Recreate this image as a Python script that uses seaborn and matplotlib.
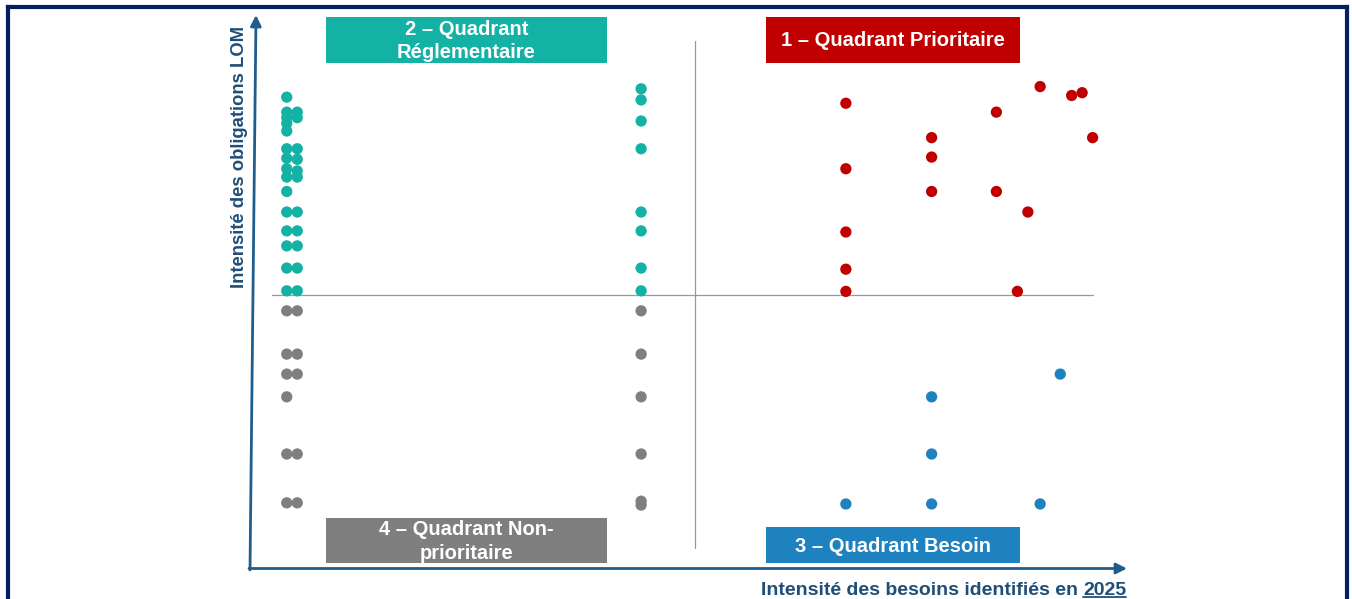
import matplotlib
matplotlib.use("Agg")
import matplotlib.pyplot as plt
import numpy as np
import pandas as pd
import seaborn as sns
from matplotlib.patches import Rectangle
from matplotlib.lines import Line2D

# ---------------- data ----------------
# x = intensité des besoins identifiés en 2025, y = intensité des obligations LOM
reg_x = [0.42, 0.42, 0.42, 0.42, 0.42, 0.42, 0.42, 0.42, 0.42, 0.42, 0.42, 0.42, 0.42, 0.42, 0.42,
         0.54, 0.54, 0.54, 0.54, 0.54, 0.54, 0.54, 0.54, 0.54, 0.54, 0.54,
         4.47, 4.47, 4.47, 4.47, 4.47, 4.47, 4.47, 4.47]
reg_y = [8.52, 8.25, 8.15, 8.05, 7.91, 7.59, 7.42, 7.23, 7.08, 6.82, 6.45, 6.11, 5.84, 5.44, 5.03,
         8.25, 8.15, 7.59, 7.40, 7.19, 7.08, 6.45, 6.11, 5.84, 5.44, 5.03,
         8.67, 8.47, 8.09, 7.59, 6.45, 6.11, 5.44, 5.03]

nonprio_x = [0.42, 0.42, 0.42, 0.42, 0.42, 0.42,
             0.54, 0.54, 0.54, 0.54, 0.54,
             4.47, 4.47, 4.47, 4.47, 4.47, 4.47]
nonprio_y = [4.67, 3.89, 3.53, 3.12, 2.09, 1.21,
             4.67, 3.89, 3.53, 2.09, 1.21,
             4.67, 3.89, 3.12, 2.09, 1.24, 1.17]

prio_x = [6.81, 6.81, 6.81, 6.81, 6.81, 7.79, 7.79, 7.79, 8.53, 8.53, 8.77, 8.89, 9.03, 9.39, 9.51, 9.63]
prio_y = [8.41, 7.23, 6.09, 5.42, 5.02, 7.79, 7.44, 6.82, 8.25, 6.82, 5.02, 6.45, 8.71, 8.55, 8.60, 7.79]

besoin_x = [6.81, 7.79, 7.79, 7.79, 9.03, 9.26]
besoin_y = [1.19, 3.12, 2.09, 1.19, 1.19, 3.53]

x_threshold = 5.08
y_threshold = 4.95

quadrant_labels = ["1 – Quadrant Prioritaire", "2 – Quadrant\nRéglementaire",
                   "3 – Quadrant Besoin", "4 – Quadrant Non-\nprioritaire"]
x_label = "Intensité des besoins identifiés en"
x_label_year = "2025"
y_label = "Intensité des obligations LOM"

colors = {"prio": "#C00000", "reg": "#14B1A5", "besoin": "#1F82C0", "nonprio": "#7F7F7F"}

df = pd.concat([
    pd.DataFrame({"besoin": prio_x, "obligation": prio_y, "quadrant": "prio"}),
    pd.DataFrame({"besoin": reg_x, "obligation": reg_y, "quadrant": "reg"}),
    pd.DataFrame({"besoin": besoin_x, "obligation": besoin_y, "quadrant": "besoin"}),
    pd.DataFrame({"besoin": nonprio_x, "obligation": nonprio_y, "quadrant": "nonprio"}),
], ignore_index=True)

# ---------------- layout helpers (pixel -> data) ----------------
W, H = 1352, 599
X0, SX = 250.0, 87.5
Y0, SY = 570.0, 55.5

def dx(px):
    return (px - X0) / SX

def dy(py):
    return (Y0 - py) / SY

sns.set_theme(style="white")
plt.rcParams["font.family"] = ["Liberation Sans", "DejaVu Sans"]

fig = plt.figure(figsize=(W / 100, H / 100), dpi=100)
ax = fig.add_axes([0, 0, 1, 1])
ax.set_xlim(dx(0), dx(W))
ax.set_ylim(dy(H), dy(0))
ax.axis("off")

# quadrant separators
ax.plot([x_threshold, x_threshold], [dy(548), dy(41)], color="#999999", lw=0.9, zorder=1)
ax.plot([dx(272), dx(1093)], [y_threshold, y_threshold], color="#999999", lw=0.9, zorder=1)

# points
sns.scatterplot(data=df, x="besoin", y="obligation", hue="quadrant", palette=colors,
                s=66, linewidth=0, legend=False, ax=ax, zorder=3)
ax.set_xlabel("")
ax.set_ylabel("")

# axes arrows
axis_col = "#1F5D8C"
ax.annotate("", xy=(dx(1127), dy(568.5)), xytext=(dx(249), dy(568.5)),
            arrowprops=dict(arrowstyle="-|>", color=axis_col, lw=2.0, mutation_scale=16,
                            shrinkA=0, shrinkB=0), zorder=4)
ax.annotate("", xy=(dx(256), dy(15)), xytext=(dx(250), dy(570)),
            arrowprops=dict(arrowstyle="-|>", color=axis_col, lw=2.0, mutation_scale=16,
                            shrinkA=0, shrinkB=0), zorder=4)

# quadrant boxes
boxes = [
    (766, 17, 1020, 63, colors["prio"], quadrant_labels[0]),
    (326, 17, 607, 63, colors["reg"], quadrant_labels[1]),
    (766, 527, 1020, 563, colors["besoin"], quadrant_labels[2]),
    (326, 518, 607, 563, colors["nonprio"], quadrant_labels[3]),
]
for (l, t, r, b, c, lab) in boxes:
    ax.add_patch(Rectangle((dx(l), dy(b)), dx(r) - dx(l), dy(t) - dy(b),
                           facecolor=c, edgecolor="none", zorder=2))
    ax.text(dx((l + r) / 2), dy((t + b) / 2 + 1), lab, ha="center", va="center",
            color="white", fontsize=14.5, fontweight="bold", linespacing=1.3, zorder=5)

# axis labels
lab_col = "#1F4E79"
narrow = ["Liberation Sans Narrow", "Liberation Sans", "DejaVu Sans"]
t_year = ax.text(dx(1126), dy(595), x_label_year, ha="right", va="baseline",
                 color=lab_col, fontsize=14, fontweight="bold", family=narrow)
t_main = ax.text(dx(1080), dy(595), x_label, ha="right", va="baseline",
                 color=lab_col, fontsize=14, fontweight="bold", family=narrow)
ax.text(dx(239), dy(157), y_label, ha="center", va="center", rotation=90,
        color=lab_col, fontsize=13.3, fontweight="bold", family=narrow)

fig.canvas.draw()
bb = t_year.get_window_extent()
inv = ax.transData.inverted()
x_left_year = inv.transform((bb.x0, bb.y0))[0]
t_main.set_x(x_left_year - 5 / SX)
# underline of the year
fig.add_artist(Line2D([bb.x0 / W, bb.x1 / W], [(H - 597) / H, (H - 597) / H],
                      color=lab_col, lw=1.3, transform=fig.transFigure))

# outer navy frame (bottom edge is cropped)
frame_col = "#002060"
fw = 3.0
fig.add_artist(Line2D([8 / W, 8 / W], [0, (H - 7) / H], color=frame_col, lw=fw,
                      transform=fig.transFigure, solid_capstyle="projecting"))
fig.add_artist(Line2D([8 / W, 1347 / W], [(H - 7) / H, (H - 7) / H], color=frame_col, lw=fw,
                      transform=fig.transFigure, solid_capstyle="projecting"))
fig.add_artist(Line2D([1347 / W, 1347 / W], [0, (H - 7) / H], color=frame_col, lw=fw,
                      transform=fig.transFigure, solid_capstyle="projecting"))

fig.savefig("out.png", dpi=100, facecolor="white")
